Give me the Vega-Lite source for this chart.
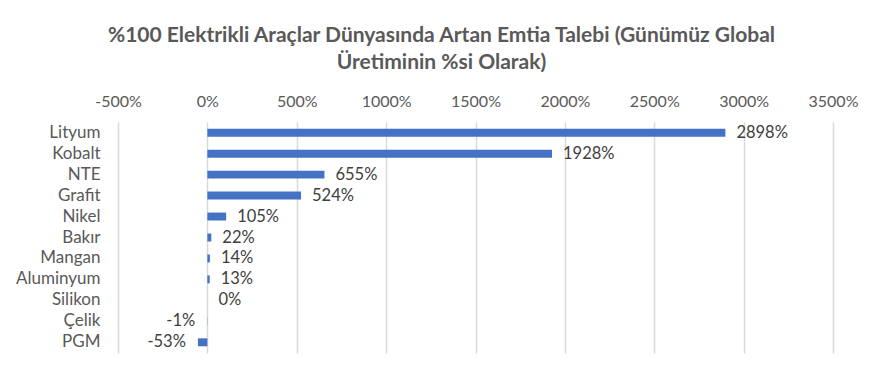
{
  "$schema": "https://vega.github.io/schema/vega-lite/v6.json",
  "width": 715,
  "height": 231,
  "autosize": {"type": "none"},
  "padding": {"left": 118, "top": 122, "right": 49, "bottom": 24},
  "background": "white",
  "title": {
    "text": ["%100 Elektrikli Araçlar Dünyasında Artan Emtia Talebi (Günümüz Global", "Üretiminin %si Olarak)"],
    "font": "Lato",
    "fontSize": 21,
    "fontWeight": "bold",
    "color": "#595959",
    "anchor": "middle",
    "frame": "group",
    "dx": -34,
    "lineHeight": 27,
    "offset": 20
  },
  "data": {
    "values": [
      {"metal": "Lityum", "value": 2898},
      {"metal": "Kobalt", "value": 1928},
      {"metal": "NTE", "value": 655},
      {"metal": "Grafit", "value": 524},
      {"metal": "Nikel", "value": 105},
      {"metal": "Bakır", "value": 22},
      {"metal": "Mangan", "value": 14},
      {"metal": "Aluminyum", "value": 13},
      {"metal": "Silikon", "value": 0},
      {"metal": "Çelik", "value": -1},
      {"metal": "PGM", "value": -53}
    ]
  },
  "transform": [{"calculate": "datum.value + '%'", "as": "label"}],
  "encoding": {
    "y": {
      "field": "metal",
      "type": "nominal",
      "sort": null,
      "scale": {"paddingInner": 0.62, "paddingOuter": 0.32},
      "axis": {
        "title": null,
        "ticks": false,
        "domain": false,
        "labelFont": "Lato",
        "labelFontSize": 17,
        "labelColor": "#595959",
        "labelPadding": 18
      }
    }
  },
  "layer": [
    {
      "mark": {"type": "bar", "color": "#4472C4"},
      "encoding": {
        "x": {
          "field": "value",
          "type": "quantitative",
          "scale": {"domain": [-500, 3500], "nice": false, "zero": false},
          "axis": {
            "orient": "top",
            "title": null,
            "values": [-500, 0, 500, 1000, 1500, 2000, 2500, 3000, 3500],
            "labelExpr": "datum.value + '%'",
            "labelFlush": false,
            "labelOverlap": false,
            "ticks": false,
            "domain": false,
            "grid": true,
            "gridColor": "#d9d9d9",
            "gridWidth": 1.5,
            "labelFont": "Lato",
            "labelFontSize": 16,
            "labelColor": "#595959",
            "labelPadding": 13
          }
        }
      }
    },
    {
      "transform": [{"filter": "datum.value >= 0"}],
      "mark": {"type": "text", "align": "left", "dx": 11, "font": "Lato", "fontSize": 16.5, "color": "#404040"},
      "encoding": {
        "x": {"field": "value", "type": "quantitative"},
        "text": {"field": "label"}
      }
    },
    {
      "transform": [{"filter": "datum.value < 0"}],
      "mark": {"type": "text", "align": "right", "dx": -12, "font": "Lato", "fontSize": 16.5, "color": "#404040"},
      "encoding": {
        "x": {"field": "value", "type": "quantitative"},
        "text": {"field": "label"}
      }
    }
  ],
  "config": {"view": {"stroke": null}}
}
